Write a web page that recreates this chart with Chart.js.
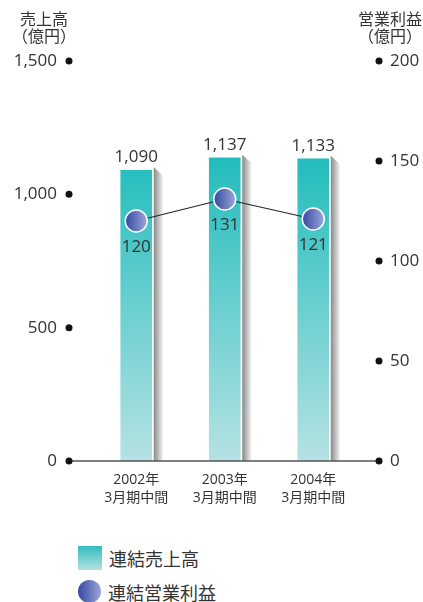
<!DOCTYPE html>
<html>
<head>
<meta charset="UTF-8">
<title>連結売上高・連結営業利益</title>
<script src="https://cdn.jsdelivr.net/npm/chart.js@4.4.1/dist/chart.umd.min.js"></script>
<style>
    body { margin: 0; background: #fff; font-family: "Open Sans", "Noto Sans CJK JP", sans-serif; color: #333; }
    #wrap { position: relative; width: 423px; height: 602px; overflow: hidden; }
    #chart { position: absolute; left: 0; top: 0; }
    .axis-title { position: absolute; font-size: 16px; line-height: 17px; text-align: center; width: 80px; }
    .legend { position: absolute; left: 78px; font-size: 18px; display: flex; align-items: center; }
    .legend .box { width: 24px; height: 24px; background: linear-gradient(#33bdbd, #b4e1e2); margin-right: 7px; }
    .legend .dot { width: 23px; height: 23px; border-radius: 50%; background: linear-gradient(90deg, #3549a0, #9ba6d8); margin-right: 7px; }
</style>
</head>
<body>
<div id="wrap">
    <canvas id="chart" width="423" height="530"></canvas>
    <div class="axis-title" style="left:4px; top:11px;">売上高<br>（億円）</div>
    <div class="axis-title" style="left:350px; top:11px;">営業利益<br>（億円）</div>
    <div class="legend" style="top:546px; height:24px;"><span class="box"></span>連結売上高</div>
    <div class="legend" style="top:580px; height:23px;"><span class="dot"></span>連結営業利益</div>
</div>
<script>
// Data
const periods = [['2002年', '3月期中間'], ['2003年', '3月期中間'], ['2004年', '3月期中間']];
const salesValues = [1090, 1137, 1133];        // 連結売上高 (億円)
const profitValues = [120, 131, 121];          // 連結営業利益 (億円)
const salesTicks = [0, 500, 1000, 1500];
const profitTicks = [0, 50, 100, 150, 200];

const FONT = '"Open Sans", "Noto Sans CJK JP", sans-serif';
const TEXT = '#333';

function barGradient(ctx) {
    const chart = ctx.chart;
    if (!chart.chartArea) return '#5cc8c8';
    const top = chart.scales.y.getPixelForValue(1150);
    const g = chart.ctx.createLinearGradient(0, top, 0, chart.chartArea.bottom);
    g.addColorStop(0, '#20bcbc');
    g.addColorStop(1, '#b6e2e3');
    return g;
}

function pointGradient(ctx) {
    const chart = ctx.chart;
    if (!chart.chartArea || ctx.type !== 'data') return '#5a6ab8';
    const x = chart.scales.x.getPixelForValue(ctx.dataIndex);
    const g = chart.ctx.createLinearGradient(x - 11, 0, x + 11, 0);
    g.addColorStop(0, '#3549a0');
    g.addColorStop(1, '#9ba6d8');
    return g;
}

// gray 3D side behind each bar
const barShadow = {
    id: 'barShadow',
    beforeDatasetsDraw(chart) {
        const ctx = chart.ctx;
        chart.getDatasetMeta(1).data.forEach(bar => {
            const r = bar.x + bar.width / 2;
            const g = ctx.createLinearGradient(r + 2, 0, r + 11, 0);
            g.addColorStop(0, '#888');
            g.addColorStop(1, '#f2f2f2');
            ctx.save();
            ctx.fillStyle = g;
            ctx.beginPath();
            ctx.moveTo(r + 2, bar.y - 3);
            ctx.lineTo(r + 11, bar.y + 5);
            ctx.lineTo(r + 11, bar.base);
            ctx.lineTo(r + 2, bar.base);
            ctx.closePath();
            ctx.fill();
            ctx.restore();
        });
    }
};

// baseline with end dots, axis dots, value labels
const decorations = {
    id: 'decorations',
    afterDatasetsDraw(chart) {
        const ctx = chart.ctx;
        const area = chart.chartArea;
        const leftX = area.left - 23;
        const rightX = area.right + 21.5;
        ctx.save();
        ctx.strokeStyle = '#555';
        ctx.lineWidth = 1.6;
        ctx.beginPath();
        ctx.moveTo(leftX, area.bottom);
        ctx.lineTo(rightX, area.bottom);
        ctx.stroke();

        ctx.fillStyle = '#111';
        salesTicks.forEach(v => {
            ctx.beginPath();
            ctx.arc(leftX, chart.scales.y.getPixelForValue(v), 3.5, 0, Math.PI * 2);
            ctx.fill();
        });
        profitTicks.forEach(v => {
            ctx.beginPath();
            ctx.arc(rightX, chart.scales.y1.getPixelForValue(v), 3.5, 0, Math.PI * 2);
            ctx.fill();
        });

        ctx.fillStyle = TEXT;
        ctx.font = '17px ' + FONT;
        ctx.textAlign = 'center';
        ctx.textBaseline = 'alphabetic';
        chart.getDatasetMeta(1).data.forEach((bar, i) => {
            ctx.fillText(salesValues[i].toLocaleString('en-US'), bar.x, bar.y - 8);
        });
        chart.getDatasetMeta(0).data.forEach((pt, i) => {
            ctx.fillText(String(profitValues[i]), pt.x, pt.y + 31);
        });
        ctx.restore();
    }
};

new Chart(document.getElementById('chart'), {
    data: {
        labels: periods,
        datasets: [
            {
                type: 'line',
                label: '連結営業利益',
                data: profitValues,
                yAxisID: 'y1',
                borderColor: '#222',
                borderWidth: 1.2,
                pointRadius: 11,
                pointHoverRadius: 11,
                pointBorderColor: '#fff',
                pointBorderWidth: 1.5,
                pointBackgroundColor: pointGradient,
                tension: 0,
                order: 0
            },
            {
                type: 'bar',
                label: '連結売上高',
                data: salesValues,
                yAxisID: 'y',
                backgroundColor: barGradient,
                barThickness: 31,
                borderWidth: 0,
                order: 1
            }
        ]
    },
    options: {
        responsive: false,
        animation: false,
        layout: { padding: { top: 61, bottom: 0, left: 0, right: 0 } },
        plugins: {
            legend: { display: false },
            tooltip: { enabled: false }
        },
        scales: {
            x: {
                offset: true,
                grid: { display: false, drawTicks: false },
                border: { display: false },
                ticks: { color: TEXT, font: { family: FONT, size: 14, lineHeight: 1.3 }, padding: 10, maxRotation: 0 },
                afterFit: s => { s.height = 69; }
            },
            y: {
                position: 'left',
                min: 0,
                max: 1500,
                afterBuildTicks: s => { s.ticks = salesTicks.map(v => ({ value: v })); },
                grid: { display: false, drawTicks: false },
                border: { display: false },
                ticks: { color: TEXT, font: { family: FONT, size: 17 }, padding: 35 },
                afterFit: s => { s.width = 92; }
            },
            y1: {
                position: 'right',
                min: 0,
                max: 200,
                afterBuildTicks: s => { s.ticks = profitTicks.map(v => ({ value: v })); },
                grid: { display: false, drawTicks: false },
                border: { display: false },
                ticks: { color: TEXT, font: { family: FONT, size: 17 }, padding: 32.5 },
                afterFit: s => { s.width = 65.5; }
            }
        }
    },
    plugins: [barShadow, decorations]
});
</script>
</body>
</html>
